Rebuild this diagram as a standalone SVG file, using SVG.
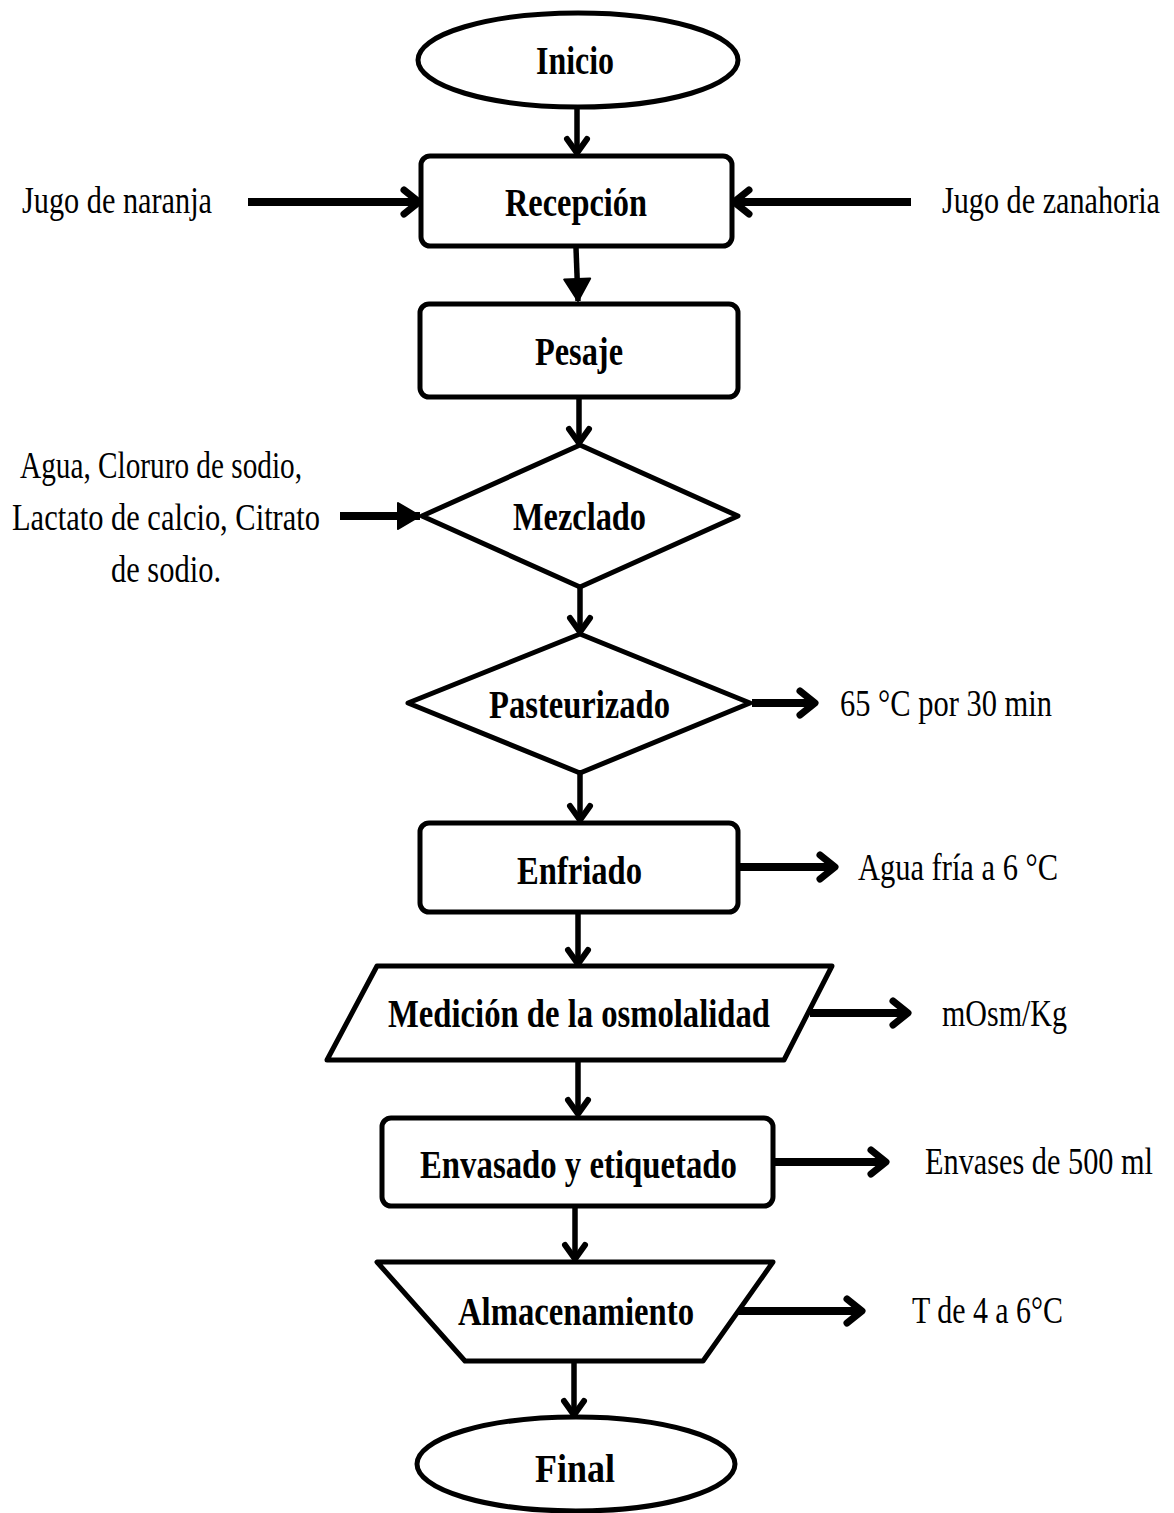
<svg xmlns="http://www.w3.org/2000/svg" width="1174" height="1513" viewBox="0 0 1174 1513">
<style>
.shape{fill:#fff;stroke:#000;stroke-width:5;stroke-linejoin:round}
.lbl{font-family:"Liberation Serif","Times New Roman",serif;font-weight:bold;font-size:40px;fill:#000}
.side{font-family:"Liberation Serif","Times New Roman",serif;font-size:38px;fill:#000}
.v{stroke:#000;stroke-width:5.5;fill:none}
.h{stroke:#000;stroke-width:8;fill:none}
</style>
<defs>
<marker id="chev" viewBox="0 0 24 28" refX="19" refY="14" markerWidth="24" markerHeight="28" markerUnits="userSpaceOnUse" orient="auto">
<path d="M5,4 L19,14 L5,24" fill="none" stroke="#000" stroke-width="6" stroke-linecap="round" stroke-linejoin="round"/>
</marker>
<marker id="chevh" viewBox="0 0 26 32" refX="21" refY="16" markerWidth="26" markerHeight="32" markerUnits="userSpaceOnUse" orient="auto">
<path d="M6,4 L21,16 L6,28" fill="none" stroke="#000" stroke-width="7" stroke-linecap="round" stroke-linejoin="round"/>
</marker>
<marker id="tri" viewBox="0 0 26 30" refX="24" refY="15" markerWidth="26" markerHeight="30" markerUnits="userSpaceOnUse" orient="auto">
<path d="M2,2 L24,15 L2,28 Z" fill="#000" stroke="#000" stroke-width="2" stroke-linejoin="round"/>
</marker>
</defs>

<g id="connectors">
<line class="v" x1="577" y1="107" x2="577" y2="153" marker-end="url(#chev)"/>
<line class="h" x1="248" y1="202" x2="419" y2="202" marker-end="url(#chevh)"/>
<line class="h" x1="911" y1="202" x2="734" y2="202" marker-end="url(#chevh)"/>
<line class="v" x1="576" y1="248" x2="578" y2="301" marker-end="url(#tri)"/>
<line class="v" x1="579" y1="398" x2="579" y2="443" marker-end="url(#chev)"/>
<line class="h" x1="340" y1="516" x2="420" y2="516" marker-end="url(#tri)"/>
<line class="v" x1="580" y1="588" x2="580" y2="632" marker-end="url(#chev)"/>
<line class="h" x1="752" y1="703" x2="815" y2="703" marker-end="url(#chevh)"/>
<line class="v" x1="580" y1="774" x2="580" y2="820" marker-end="url(#chev)"/>
<line class="h" x1="740" y1="867" x2="835" y2="867" marker-end="url(#chevh)"/>
<line class="v" x1="578" y1="913" x2="578" y2="964" marker-end="url(#chev)"/>
<line class="h" x1="810" y1="1013" x2="908" y2="1013" marker-end="url(#chevh)"/>
<line class="v" x1="578" y1="1062" x2="578" y2="1114" marker-end="url(#chev)"/>
<line class="h" x1="775" y1="1162" x2="886" y2="1162" marker-end="url(#chevh)"/>
<line class="v" x1="575" y1="1208" x2="575" y2="1259" marker-end="url(#chev)"/>
<line class="h" x1="733" y1="1311" x2="862" y2="1311" marker-end="url(#chevh)"/>
<line class="v" x1="574" y1="1363" x2="574" y2="1415" marker-end="url(#chev)"/>
</g>

<g id="inicio">
<ellipse class="shape" cx="578" cy="60" rx="160" ry="47"/>
<text class="lbl" x="536" y="74" textLength="78" lengthAdjust="spacingAndGlyphs">Inicio</text>
</g>
<g id="recepcion">
<rect class="shape" x="421" y="156" width="311" height="90" rx="9"/>
<text class="lbl" x="505" y="216" textLength="142" lengthAdjust="spacingAndGlyphs">Recepción</text>
</g>
<g id="jugo-naranja">
<text class="side" x="22" y="213" textLength="190" lengthAdjust="spacingAndGlyphs">Jugo de naranja</text>
</g>
<g id="jugo-zanahoria">
<text class="side" x="1160" y="213" text-anchor="end" textLength="218" lengthAdjust="spacingAndGlyphs">Jugo de zanahoria</text>
</g>
<g id="pesaje">
<rect class="shape" x="420" y="304" width="318" height="93" rx="9"/>
<text class="lbl" x="535" y="365" textLength="88" lengthAdjust="spacingAndGlyphs">Pesaje</text>
</g>
<g id="mezclado">
<polygon class="shape" points="422,516 580,445 738,516 580,587"/>
<text class="lbl" x="513" y="530" textLength="133" lengthAdjust="spacingAndGlyphs">Mezclado</text>
</g>
<g id="ingredientes">
<text class="side" x="20" y="478" textLength="282" lengthAdjust="spacingAndGlyphs">Agua, Cloruro de sodio,</text>
<text class="side" x="12" y="530" textLength="308" lengthAdjust="spacingAndGlyphs">Lactato de calcio, Citrato</text>
<text class="side" x="111" y="582" textLength="110" lengthAdjust="spacingAndGlyphs">de sodio.</text>
</g>
<g id="pasteurizado">
<polygon class="shape" points="408,703 580,634 750,703 580,773"/>
<text class="lbl" x="489" y="718" textLength="181" lengthAdjust="spacingAndGlyphs">Pasteurizado</text>
</g>
<g id="temp-pasteurizado">
<text class="side" x="840" y="716" textLength="212" lengthAdjust="spacingAndGlyphs">65 °C por 30 min</text>
</g>
<g id="enfriado">
<rect class="shape" x="420" y="823" width="318" height="89" rx="9"/>
<text class="lbl" x="517" y="884" textLength="125" lengthAdjust="spacingAndGlyphs">Enfriado</text>
</g>
<g id="agua-fria">
<text class="side" x="858" y="880" textLength="200" lengthAdjust="spacingAndGlyphs">Agua fría a 6 °C</text>
</g>
<g id="medicion">
<polygon class="shape" points="377,966 832,966 784,1060 327,1060"/>
<text class="lbl" x="388" y="1027" textLength="382" lengthAdjust="spacingAndGlyphs">Medición de la osmolalidad</text>
</g>
<g id="mosm">
<text class="side" x="942" y="1026" textLength="125" lengthAdjust="spacingAndGlyphs">mOsm/Kg</text>
</g>
<g id="envasado">
<rect class="shape" x="382" y="1118" width="391" height="88" rx="9"/>
<text class="lbl" x="420" y="1178" textLength="317" lengthAdjust="spacingAndGlyphs">Envasado y etiquetado</text>
</g>
<g id="envases">
<text class="side" x="1153" y="1174" text-anchor="end" textLength="228" lengthAdjust="spacingAndGlyphs">Envases de 500 ml</text>
</g>
<g id="almacenamiento">
<polygon class="shape" points="377,1262 773,1262 703,1361 465,1361"/>
<text class="lbl" x="458" y="1325" textLength="236" lengthAdjust="spacingAndGlyphs">Almacenamiento</text>
</g>
<g id="temp-almacen">
<text class="side" x="912" y="1323" textLength="151" lengthAdjust="spacingAndGlyphs">T de 4 a 6°C</text>
</g>
<g id="final">
<ellipse class="shape" cx="576" cy="1464" rx="159" ry="47"/>
<text class="lbl" x="535" y="1482" textLength="80" lengthAdjust="spacingAndGlyphs">Final</text>
</g>
</svg>
